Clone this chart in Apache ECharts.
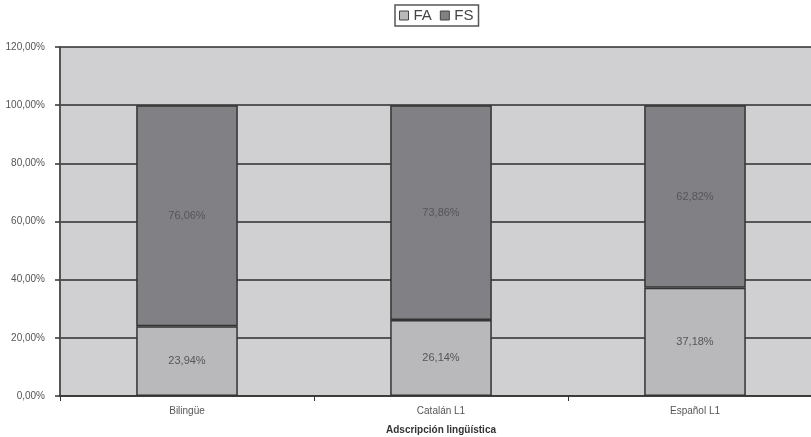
<!DOCTYPE html>
<html>
<head>
<meta charset="utf-8">
<script src="https://cdn.jsdelivr.net/npm/echarts@6/dist/echarts.min.js"></script>
<style>
  html, body { margin: 0; padding: 0; background: #ffffff; }
  #chart { width: 811px; height: 437px; }
</style>
</head>
<body>
<div id="chart"></div>
<script>
// Share of FA / FS per linguistic group (percent)
const categories = ['Bilingüe', 'Catalán L1', 'Español L1'];
const faValues = [23.94, 26.14, 37.18];
const fsValues = [76.06, 73.86, 62.82];
const yTicks = [0, 20, 40, 60, 80, 100, 120];

const fmt = v => v.toFixed(2).replace('.', ',') + '%';
const FONT = '"Liberation Sans", Arial, sans-serif';

const chart = echarts.init(document.getElementById('chart'));

const labelStyle = {
  show: true,
  position: 'inside',
  color: '#55555a',
  fontFamily: FONT,
  fontSize: 11,
  formatter: p => fmt(p.value)
};

chart.setOption({
  animation: false,
  textStyle: { fontFamily: FONT },
  legend: {
    top: 5,
    left: 395,
    data: ['FA', 'FS'],
    icon: 'rect',
    itemWidth: 9,
    itemHeight: 9,
    itemGap: 8,
    padding: [3, 5, 3, 4],
    borderColor: '#555',
    borderWidth: 1.5,
    textStyle: { color: '#444', fontSize: 15, fontFamily: FONT, padding: [0, 0, 0, 0] },
    itemStyle: { borderColor: '#444', borderWidth: 1 }
  },
  grid: {
    left: 60,
    width: 762,
    top: 47,
    bottom: 41,
    outerBoundsMode: 'none',
    containLabel: false,
    show: true,
    backgroundColor: '#d0d0d2',
    borderWidth: 0
  },
  xAxis: {
    type: 'category',
    data: categories,
    name: 'Adscripción lingüística',
    nameLocation: 'middle',
    nameGap: 29,
    nameTextStyle: { fontWeight: 'bold', fontSize: 10, color: '#333', fontFamily: FONT },
    axisLine: { lineStyle: { color: '#333', width: 1.5 } },
    axisTick: { show: true, length: 5, lineStyle: { color: '#333' } },
    axisLabel: { color: '#555', fontSize: 10, margin: 10, fontFamily: FONT }
  },
  yAxis: {
    type: 'value',
    min: yTicks[0],
    max: yTicks[yTicks.length - 1],
    interval: 20,
    axisLine: { show: true, lineStyle: { color: '#555', width: 2 } },
    axisTick: { show: true, length: 5, lineStyle: { color: '#333', width: 1.5 } },
    axisLabel: {
      color: '#555',
      fontSize: 10,
      margin: 15,
      fontFamily: FONT,
      formatter: v => v.toFixed(2).replace('.', ',') + '%'
    },
    splitLine: { show: true, lineStyle: { color: '#2e2e30', width: 1.5 } }
  },
  series: [
    {
      name: 'FA',
      type: 'bar',
      stack: 'total',
      barWidth: '40%',
      data: faValues,
      itemStyle: { color: '#b9b9bc', borderColor: '#333', borderWidth: 1.5 },
      label: labelStyle
    },
    {
      name: 'FS',
      type: 'bar',
      stack: 'total',
      barWidth: '40%',
      data: fsValues,
      itemStyle: { color: '#818185', borderColor: '#333', borderWidth: 1.5 },
      label: labelStyle
    }
  ]
});
</script>
</body>
</html>
